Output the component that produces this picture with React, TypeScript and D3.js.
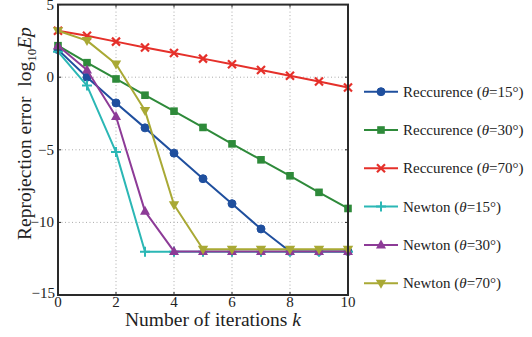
import React from "react";
import * as d3 from "d3";

const iterations = [0, 1, 2, 3, 4, 5, 6, 7, 8, 9, 10];
const xTicks = [0, 2, 4, 6, 8, 10];
const yTicks = [5, 0, -5, -10, -15];

const recc15 = [1.9, 0.0, -1.77, -3.49, -5.23, -6.99, -8.71, -10.45, -12.0, -12.0, -12.0];
const recc30 = [2.17, 1.0, -0.12, -1.24, -2.34, -3.46, -4.59, -5.69, -6.79, -7.93, -9.04];
const recc70 = [3.2, 2.85, 2.45, 2.05, 1.66, 1.28, 0.89, 0.5, 0.1, -0.3, -0.71];
const newton15 = [1.76, -0.58, -5.16, -12.02, -12.02, -12.02, -12.02, -12.02, -12.02, -12.02, -12.02];
const newton30 = [2.17, 0.5, -2.71, -9.24, -12.0, -12.0, -12.0, -12.0, -12.0, -12.0, -12.0];
const newton70 = [3.2, 2.52, 0.91, -2.3, -8.78, -11.85, -11.85, -11.85, -11.85, -11.85, -11.85];

const seriesNames = ["Reccurence", "Reccurence", "Reccurence", "Newton", "Newton", "Newton"];
const seriesAngles = ["15", "30", "70", "15", "30", "70"];
const seriesValues = [recc15, recc30, recc70, newton15, newton30, newton70];
const seriesColors = ["#1f4f9e", "#2e8a3a", "#e5302a", "#2bb7b5", "#8d3b97", "#a9a935"];
const seriesMarkers = ["circle", "square", "x", "plus", "triUp", "triDown"];

const W = 532;
const H = 337;
const L = 58, R = 348, T = 4.6, B = 295;

const x = d3.scaleLinear().domain([0, 10]).range([L, R]);
const y = d3.scaleLinear().domain([-15, 5]).range([B, T]);

const FONT = '"Liberation Serif", "Times New Roman", Times, serif';
const textStyle: React.CSSProperties = { fontFamily: FONT };

function Marker({ kind, cx, cy, color }: { kind: string; cx: number; cy: number; color: string }) {
  switch (kind) {
    case "circle":
      return <circle cx={cx} cy={cy} r={4} fill={color} stroke={color} strokeWidth={1} />;
    case "square":
      return <rect x={cx - 3.8} y={cy - 3.8} width={7.6} height={7.6} fill={color} />;
    case "x":
      return (
        <path d={`M${cx - 4},${cy - 4}L${cx + 4},${cy + 4}M${cx - 4},${cy + 4}L${cx + 4},${cy - 4}`} stroke={color} strokeWidth={2.2} />
      );
    case "plus":
      return (
        <path d={`M${cx - 5},${cy}L${cx + 5},${cy}M${cx},${cy - 5}L${cx},${cy + 5}`} stroke={color} strokeWidth={2} />
      );
    case "triUp":
      return <path d={`M${cx},${cy - 5.5}L${cx + 5},${cy + 3.5}L${cx - 5},${cy + 3.5}Z`} fill={color} />;
    case "triDown":
      return <path d={`M${cx},${cy + 5.5}L${cx + 5.2},${cy - 3.5}L${cx - 5.2},${cy - 3.5}Z`} fill={color} />;
    default:
      return null;
  }
}

export default function App() {
  const line = d3
    .line<number>()
    .x((_, i) => x(iterations[i]))
    .y((d) => y(d));

  const legendX0 = 364, legendX1 = 398, legendTextX = 403, legendY0 = 91.7, legendDy = 38.3;

  return (
    <svg width={W} height={H} style={{ position: "absolute", left: 0, top: 0, background: "#fff" }}>
      {/* grid */}
      {xTicks.filter((t) => t > 0 && t < 10).map((t) => (
        <line key={"gx" + t} x1={x(t)} x2={x(t)} y1={T} y2={B} stroke="#aaa" strokeWidth={1} strokeDasharray="1,2.5" />
      ))}
      {yTicks.filter((t) => t > -15 && t < 5).map((t) => (
        <line key={"gy" + t} x1={L} x2={R} y1={y(t)} y2={y(t)} stroke="#aaa" strokeWidth={1} strokeDasharray="1,2.5" />
      ))}
      {/* series */}
      {seriesValues.map((vals, si) => (
        <g key={"s" + si}>
          <path d={line(vals) || ""} fill="none" stroke={seriesColors[si]} strokeWidth={2} strokeLinejoin="round" />
          {vals.map((v, i) => (
            <Marker key={i} kind={seriesMarkers[si]} cx={x(iterations[i])} cy={y(v)} color={seriesColors[si]} />
          ))}
        </g>
      ))}
      {/* frame */}
      <rect x={L} y={T} width={R - L} height={B - T} fill="none" stroke="#2a2a2a" strokeWidth={2} />
      {/* ticks */}
      {xTicks.map((t) => (
        <g key={"xt" + t}>
          <line x1={x(t)} x2={x(t)} y1={B} y2={B - 3} stroke="#2a2a2a" strokeWidth={1} />
          <line x1={x(t)} x2={x(t)} y1={T} y2={T + 3} stroke="#2a2a2a" strokeWidth={1} />
          <text x={x(t)} y={307} textAnchor="middle" fontSize={15} fill="#222" style={textStyle}>{t}</text>
        </g>
      ))}
      {yTicks.map((t) => (
        <g key={"yt" + t}>
          <line x1={L} x2={L + 3} y1={y(t)} y2={y(t)} stroke="#2a2a2a" strokeWidth={1} />
          <line x1={R} x2={R - 3} y1={y(t)} y2={y(t)} stroke="#2a2a2a" strokeWidth={1} />
          <text x={t === -15 ? 55 : 54} y={t === -15 ? y(t) + 3 : y(t) + 5} textAnchor="end" fontSize={15} fill="#222" style={textStyle}>
            {t < 0 ? "\u2212" + Math.abs(t) : String(t)}
          </text>
        </g>
      ))}
      {/* axis labels */}
      <text x={213} y={326} textAnchor="middle" fontSize={19.5} fill="#222" style={textStyle}>
        Number of iterations <tspan fontStyle="italic">k</tspan>
      </text>
      <text transform="translate(31,240) rotate(-90)" textAnchor="start" fontSize={19.5} fill="#222" style={textStyle}>
        Reprojection error{"\u2002"}log<tspan fontSize={13} dy={5}>10</tspan>
        <tspan dy={-5} fontStyle="italic">Ep</tspan>
      </text>
      {/* legend */}
      {seriesNames.map((name, si) => {
        const ly = legendY0 + si * legendDy;
        return (
          <g key={"lg" + si}>
            <line x1={legendX0} x2={legendX1} y1={ly} y2={ly} stroke={seriesColors[si]} strokeWidth={2} />
            <Marker kind={seriesMarkers[si]} cx={(legendX0 + legendX1) / 2} cy={ly} color={seriesColors[si]} />
            <text x={legendTextX} y={ly + 5} fontSize={15} fill="#222" style={textStyle}>
              {name} (<tspan fontStyle="italic">θ</tspan>={seriesAngles[si]}°)
            </text>
          </g>
        );
      })}
    </svg>
  );
}
